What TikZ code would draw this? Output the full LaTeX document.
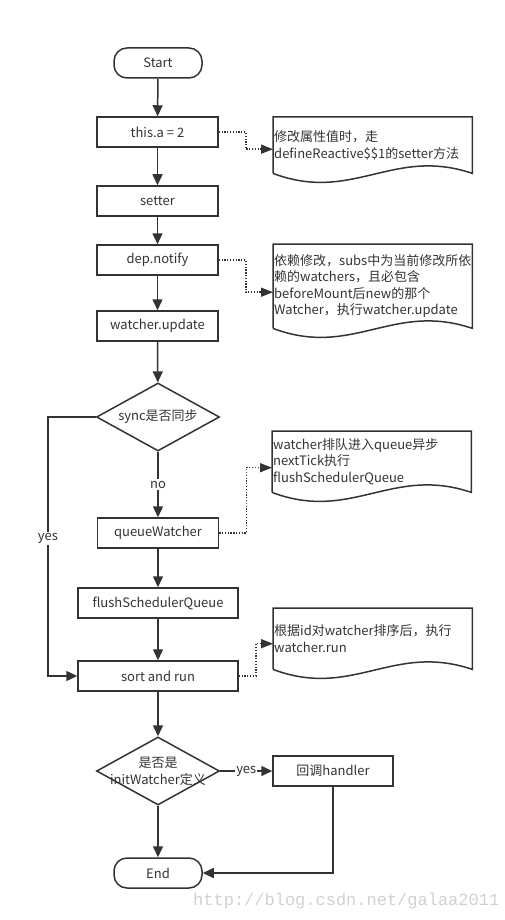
\documentclass[tikz,border=0pt]{standalone}
\usepackage{fontspec}
\setmainfont{Noto Sans CJK SC}
\newfontfamily\wmfont{Liberation Mono}
\usetikzlibrary{arrows.meta,shapes.geometric,calc}
\definecolor{ln}{HTML}{333333}
\newcommand\docwave[1]{\draw[ln, line width=1.5pt] (#1.south west) -- (#1.north west) -- (#1.north east) -- (#1.south east) .. controls ($(#1.south east)!0.4!(#1.south west)+(0,-27)$) and ($(#1.south east)!0.6!(#1.south west)+(0,30)$) .. (#1.south west);}
\begin{document}
\begin{tikzpicture}[x=1pt,y=-1pt,
  every node/.style={font=\fontsize{13}{15}\selectfont, text=black!80},
  proc/.style={draw=ln, line width=1.5pt, rectangle, minimum height=30, inner sep=0},
  term/.style={proc, rounded corners=13pt, minimum width=88},
  dia/.style={draw=ln, line width=1.5pt, diamond, minimum width=123, minimum height=68, inner sep=0},
  lbl/.style={inner sep=0, align=center},
  flow/.style={draw=ln, line width=1.5pt, -{Triangle[length=11pt,width=10pt]}},
  dotflow/.style={draw=ln, line width=1.5pt, dash pattern=on 1.3pt off 1.5pt, -{Triangle[length=12pt,width=9pt]}},
  note/.style={rectangle, inner xsep=1pt, inner ysep=0, text width=197, align=left, anchor=north west, font=\fontsize{13}{16.5}\selectfont},
  tag/.style={fill=white, inner sep=1.5pt}
]
\useasboundingbox (0,0) rectangle (504,920);

% main flow
\node[term] (start) at (158,63) {Start};
\node[proc, minimum width=121] (thisa) at (157.5,132) {this.a = 2};
\node[proc, minimum width=121] (setter) at (157.5,201) {setter};
\node[proc, minimum width=121] (dep) at (157.5,260) {dep.notify};
\node[proc, minimum width=121] (wu) at (157.5,326) {watcher.update};
\node[dia] (sync) at (158,417) {};
\node[lbl] (synct) at (sync) {sync是否同步};
\node[proc, minimum width=121] (qw) at (158,533) {queueWatcher};
\node[proc, minimum width=160] (fsq) at (158,603) {flushSchedulerQueue};
\node[proc, minimum width=160] (sr) at (158,676) {sort and run};
\node[dia] (init) at (158,771) {};
\node[lbl, font=\fontsize{13}{17}\selectfont] (initt) at (init) {是否是\\initWatcher定义};
\node[proc, minimum width=120] (cb) at (333,771) {回调handler};
\node[term] (end) at (158,873) {End};

% notes
\node[note, minimum height=56] (n1) at (273,117) {修改属性值时，走\\defineReactive\$\$1的setter方法};
\node[note, minimum height=84] (n2) at (273,244) {依赖修改，subs中为当前修改所依\\赖的watchers，且必包含\\beforeMount后new的那个\\Watcher，执行watcher.update};
\node[note, minimum height=61] (n3) at (272,431) {watcher排队进入queue异步\\nextTick执行\\flushSchedulerQueue};
\node[note, minimum height=61] (n4) at (273,608) {根据id对watcher排序后，执行\\watcher.run};
\docwave{n1}
\docwave{n2}
\docwave{n3}
\docwave{n4}

% connectors
\draw[flow] (start) -- (thisa);
\draw[flow] (thisa) -- (setter);
\draw[flow] (setter) -- (dep);
\draw[flow] (dep) -- (wu);
\draw[flow] (wu) -- (sync);
\draw[flow] (sync) -- node[tag] {no} (qw);
\coordinate (yl) at (48,417);
\draw[flow] (sync.west) -- (yl) |- node[tag, pos=0.234] {yes} (sr.west);
\draw[flow] (qw) -- (fsq);
\draw[flow] (fsq) -- (sr);
\draw[flow] (sr) -- (init);
\draw[flow] (init) -- (end);
\draw[flow] (init.east) -- node[tag, inner sep=1pt] {yes} (cb.west);
\draw[flow] (cb.south) |- (end.east);

\draw[dotflow] (thisa.east) -- ++(27,0) |- ($(n1.west)+(0,4)$);
\draw[dotflow] (dep.east) -- ++(27,0) |- ($(n2.west)+(0,6)$);
\draw[dotflow] (qw.east) -- ++(27,0) |- ($(n3.west)+(0,6)$);
\draw[dotflow] (sr.east) -- ++(17,0) |- ($(n4.west)+(0,5)$);

% watermark
\node[font=\wmfont\fontsize{17}{17}\selectfont, text=black!18, anchor=west, inner sep=0] (wm) at (193,901) {http://blog.csdn.net/galaa2011};
\end{tikzpicture}
\end{document}
